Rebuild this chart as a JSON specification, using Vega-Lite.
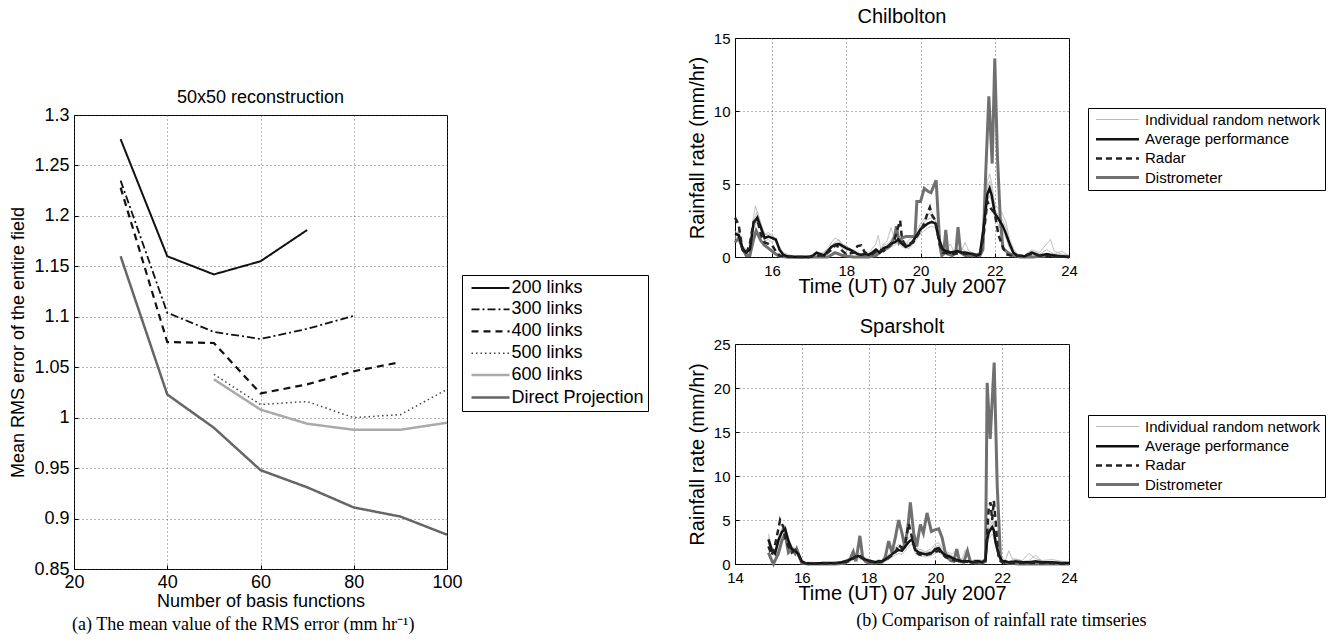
{
  "$schema": "https://vega.github.io/schema/vega-lite/v6.json",
  "background": "white",
  "padding": {"left": 9, "top": 6, "right": 0, "bottom": 0},
  "config": {
    "font": "Liberation Sans",
    "view": {"stroke": "black", "strokeWidth": 1},
    "axis": {"domain": false, "grid": true, "gridDash": [1, 3], "gridColor": "#444", "gridWidth": 0.8, "gridOpacity": 1, "ticks": true, "tickSize": -4, "tickColor": "black", "labelColor": "black", "titleColor": "black", "labelFont": "Liberation Sans", "titleFont": "Liberation Sans", "titleFontWeight": "normal", "labelFlush": false, "labelOverlap": false},
    "title": {"font": "Liberation Sans", "fontWeight": "normal", "color": "black"},
    "legend": {"labelFont": "Liberation Sans", "labelColor": "black", "labelLimit": 0}
  },
  "datasets": {
    "rms": [
      {"basis": 30, "series": "200 links", "rmse": 1.276}, {"basis": 40, "series": "200 links", "rmse": 1.160}, {"basis": 50, "series": "200 links", "rmse": 1.142}, {"basis": 60, "series": "200 links", "rmse": 1.155}, {"basis": 70, "series": "200 links", "rmse": 1.186},
      {"basis": 30, "series": "300 links", "rmse": 1.235}, {"basis": 40, "series": "300 links", "rmse": 1.104}, {"basis": 50, "series": "300 links", "rmse": 1.085}, {"basis": 60, "series": "300 links", "rmse": 1.078}, {"basis": 70, "series": "300 links", "rmse": 1.088}, {"basis": 80, "series": "300 links", "rmse": 1.101},
      {"basis": 30, "series": "400 links", "rmse": 1.228}, {"basis": 40, "series": "400 links", "rmse": 1.075}, {"basis": 50, "series": "400 links", "rmse": 1.074}, {"basis": 60, "series": "400 links", "rmse": 1.024}, {"basis": 70, "series": "400 links", "rmse": 1.033}, {"basis": 80, "series": "400 links", "rmse": 1.046}, {"basis": 90, "series": "400 links", "rmse": 1.055},
      {"basis": 50, "series": "500 links", "rmse": 1.043}, {"basis": 60, "series": "500 links", "rmse": 1.013}, {"basis": 70, "series": "500 links", "rmse": 1.016}, {"basis": 80, "series": "500 links", "rmse": 1.000}, {"basis": 90, "series": "500 links", "rmse": 1.003}, {"basis": 100, "series": "500 links", "rmse": 1.028},
      {"basis": 50, "series": "600 links", "rmse": 1.038}, {"basis": 60, "series": "600 links", "rmse": 1.008}, {"basis": 70, "series": "600 links", "rmse": 0.994}, {"basis": 80, "series": "600 links", "rmse": 0.988}, {"basis": 90, "series": "600 links", "rmse": 0.988}, {"basis": 100, "series": "600 links", "rmse": 0.995},
      {"basis": 30, "series": "Direct Projection", "rmse": 1.160}, {"basis": 40, "series": "Direct Projection", "rmse": 1.023}, {"basis": 50, "series": "Direct Projection", "rmse": 0.990}, {"basis": 60, "series": "Direct Projection", "rmse": 0.948}, {"basis": 70, "series": "Direct Projection", "rmse": 0.931}, {"basis": 80, "series": "Direct Projection", "rmse": 0.911}, {"basis": 90, "series": "Direct Projection", "rmse": 0.902}, {"basis": 100, "series": "Direct Projection", "rmse": 0.884}
    ],
    "chil": [
      {"hour":15.0,"series":"dist","rate":1.0},{"hour":15.1,"series":"dist","rate":1.3},{"hour":15.2,"series":"dist","rate":0.6},{"hour":15.3,"series":"dist","rate":0.1},{"hour":15.4,"series":"dist","rate":0.1},{"hour":15.5,"series":"dist","rate":1.2},{"hour":15.57,"series":"dist","rate":1.8},{"hour":15.7,"series":"dist","rate":1.1},{"hour":15.8,"series":"dist","rate":0.8},{"hour":15.9,"series":"dist","rate":0.6},{"hour":16.0,"series":"dist","rate":0.4},{"hour":16.1,"series":"dist","rate":0.2},{"hour":16.2,"series":"dist","rate":0.05},{"hour":16.4,"series":"dist","rate":0},{"hour":17.0,"series":"dist","rate":0},{"hour":17.5,"series":"dist","rate":0},{"hour":17.7,"series":"dist","rate":0.3},{"hour":17.9,"series":"dist","rate":0.1},{"hour":18.2,"series":"dist","rate":0},{"hour":18.6,"series":"dist","rate":0},{"hour":18.8,"series":"dist","rate":0.1},{"hour":19.0,"series":"dist","rate":0.5},{"hour":19.1,"series":"dist","rate":0.6},{"hour":19.2,"series":"dist","rate":0.8},{"hour":19.3,"series":"dist","rate":1.4},{"hour":19.35,"series":"dist","rate":2.1},{"hour":19.42,"series":"dist","rate":1.0},{"hour":19.5,"series":"dist","rate":1.3},{"hour":19.6,"series":"dist","rate":1.4},{"hour":19.7,"series":"dist","rate":1.4},{"hour":19.85,"series":"dist","rate":1.4},{"hour":19.9,"series":"dist","rate":3.8},{"hour":20.0,"series":"dist","rate":3.8},{"hour":20.1,"series":"dist","rate":4.7},{"hour":20.2,"series":"dist","rate":4.5},{"hour":20.28,"series":"dist","rate":4.4},{"hour":20.42,"series":"dist","rate":5.25},{"hour":20.47,"series":"dist","rate":3.0},{"hour":20.52,"series":"dist","rate":0.8},{"hour":20.57,"series":"dist","rate":0.1},{"hour":20.62,"series":"dist","rate":0.2},{"hour":20.68,"series":"dist","rate":1.85},{"hour":20.74,"series":"dist","rate":0.2},{"hour":20.85,"series":"dist","rate":0.1},{"hour":20.95,"series":"dist","rate":0.3},{"hour":21.01,"series":"dist","rate":2.05},{"hour":21.08,"series":"dist","rate":0.3},{"hour":21.2,"series":"dist","rate":0.1},{"hour":21.4,"series":"dist","rate":0.1},{"hour":21.6,"series":"dist","rate":0.1},{"hour":21.68,"series":"dist","rate":0.5},{"hour":21.76,"series":"dist","rate":6.0},{"hour":21.84,"series":"dist","rate":11.0},{"hour":21.93,"series":"dist","rate":6.4},{"hour":22.0,"series":"dist","rate":13.6},{"hour":22.07,"series":"dist","rate":7.0},{"hour":22.15,"series":"dist","rate":2.5},{"hour":22.22,"series":"dist","rate":0.6},{"hour":22.35,"series":"dist","rate":0.3},{"hour":22.5,"series":"dist","rate":0.1},{"hour":22.7,"series":"dist","rate":0},{"hour":23.0,"series":"dist","rate":0},{"hour":23.5,"series":"dist","rate":0.1},{"hour":24.0,"series":"dist","rate":0},

      {"hour":15.0,"series":"avg","rate":1.6},{"hour":15.1,"series":"avg","rate":1.5},{"hour":15.2,"series":"avg","rate":0.6},{"hour":15.3,"series":"avg","rate":0.3},{"hour":15.4,"series":"avg","rate":0.5},{"hour":15.5,"series":"avg","rate":2.3},{"hour":15.6,"series":"avg","rate":2.7},{"hour":15.7,"series":"avg","rate":2.0},{"hour":15.8,"series":"avg","rate":1.3},{"hour":15.9,"series":"avg","rate":1.4},{"hour":16.0,"series":"avg","rate":1.3},{"hour":16.1,"series":"avg","rate":1.2},{"hour":16.2,"series":"avg","rate":0.5},{"hour":16.3,"series":"avg","rate":0.15},{"hour":16.4,"series":"avg","rate":0.05},{"hour":16.6,"series":"avg","rate":0},{"hour":17.0,"series":"avg","rate":0},{"hour":17.1,"series":"avg","rate":0.1},{"hour":17.2,"series":"avg","rate":0.3},{"hour":17.3,"series":"avg","rate":0.2},{"hour":17.4,"series":"avg","rate":0.1},{"hour":17.5,"series":"avg","rate":0.4},{"hour":17.6,"series":"avg","rate":0.7},{"hour":17.7,"series":"avg","rate":0.85},{"hour":17.8,"series":"avg","rate":0.9},{"hour":17.9,"series":"avg","rate":0.75},{"hour":18.0,"series":"avg","rate":0.6},{"hour":18.1,"series":"avg","rate":0.5},{"hour":18.2,"series":"avg","rate":0.35},{"hour":18.3,"series":"avg","rate":0.2},{"hour":18.4,"series":"avg","rate":0.15},{"hour":18.5,"series":"avg","rate":0.2},{"hour":18.6,"series":"avg","rate":0.15},{"hour":18.7,"series":"avg","rate":0.3},{"hour":18.8,"series":"avg","rate":0.5},{"hour":18.9,"series":"avg","rate":0.3},{"hour":19.0,"series":"avg","rate":0.6},{"hour":19.1,"series":"avg","rate":0.7},{"hour":19.2,"series":"avg","rate":0.9},{"hour":19.3,"series":"avg","rate":1.0},{"hour":19.4,"series":"avg","rate":1.2},{"hour":19.5,"series":"avg","rate":0.9},{"hour":19.6,"series":"avg","rate":0.7},{"hour":19.7,"series":"avg","rate":0.8},{"hour":19.8,"series":"avg","rate":1.1},{"hour":19.9,"series":"avg","rate":1.5},{"hour":20.0,"series":"avg","rate":1.9},{"hour":20.1,"series":"avg","rate":2.1},{"hour":20.2,"series":"avg","rate":2.3},{"hour":20.3,"series":"avg","rate":2.4},{"hour":20.4,"series":"avg","rate":2.3},{"hour":20.5,"series":"avg","rate":1.2},{"hour":20.6,"series":"avg","rate":0.5},{"hour":20.7,"series":"avg","rate":0.4},{"hour":20.8,"series":"avg","rate":0.3},{"hour":20.9,"series":"avg","rate":0.35},{"hour":21.0,"series":"avg","rate":0.4},{"hour":21.1,"series":"avg","rate":0.3},{"hour":21.2,"series":"avg","rate":0.3},{"hour":21.3,"series":"avg","rate":0.25},{"hour":21.4,"series":"avg","rate":0.2},{"hour":21.5,"series":"avg","rate":0.1},{"hour":21.6,"series":"avg","rate":0.2},{"hour":21.7,"series":"avg","rate":2.0},{"hour":21.8,"series":"avg","rate":4.3},{"hour":21.86,"series":"avg","rate":4.7},{"hour":21.92,"series":"avg","rate":4.2},{"hour":22.0,"series":"avg","rate":3.0},{"hour":22.1,"series":"avg","rate":2.6},{"hour":22.2,"series":"avg","rate":2.2},{"hour":22.3,"series":"avg","rate":1.6},{"hour":22.4,"series":"avg","rate":0.9},{"hour":22.5,"series":"avg","rate":0.3},{"hour":22.6,"series":"avg","rate":0.1},{"hour":22.8,"series":"avg","rate":0.05},{"hour":23.0,"series":"avg","rate":0.3},{"hour":23.2,"series":"avg","rate":0.1},{"hour":23.4,"series":"avg","rate":0.2},{"hour":23.6,"series":"avg","rate":0.1},{"hour":23.8,"series":"avg","rate":0.05},{"hour":24.0,"series":"avg","rate":0},

      {"hour":15.0,"series":"radar","rate":2.7},{"hour":15.1,"series":"radar","rate":2.2},{"hour":15.2,"series":"radar","rate":0.5},{"hour":15.3,"series":"radar","rate":0.2},{"hour":15.4,"series":"radar","rate":0.9},{"hour":15.5,"series":"radar","rate":2.4},{"hour":15.6,"series":"radar","rate":2.6},{"hour":15.7,"series":"radar","rate":1.5},{"hour":15.8,"series":"radar","rate":1.0},{"hour":15.9,"series":"radar","rate":0.9},{"hour":16.0,"series":"radar","rate":0.8},{"hour":16.1,"series":"radar","rate":0.4},{"hour":16.2,"series":"radar","rate":0.1},{"hour":16.4,"series":"radar","rate":0},{"hour":17.0,"series":"radar","rate":0},{"hour":17.2,"series":"radar","rate":0.1},{"hour":17.4,"series":"radar","rate":0.1},{"hour":17.6,"series":"radar","rate":0.5},{"hour":17.7,"series":"radar","rate":0.8},{"hour":17.8,"series":"radar","rate":0.7},{"hour":17.9,"series":"radar","rate":0.4},{"hour":18.0,"series":"radar","rate":0.2},{"hour":18.2,"series":"radar","rate":0.3},{"hour":18.3,"series":"radar","rate":0.75},{"hour":18.4,"series":"radar","rate":0.8},{"hour":18.5,"series":"radar","rate":0.3},{"hour":18.7,"series":"radar","rate":0.2},{"hour":18.9,"series":"radar","rate":0.5},{"hour":19.0,"series":"radar","rate":0.4},{"hour":19.1,"series":"radar","rate":0.6},{"hour":19.2,"series":"radar","rate":0.9},{"hour":19.3,"series":"radar","rate":1.2},{"hour":19.4,"series":"radar","rate":2.1},{"hour":19.45,"series":"radar","rate":2.5},{"hour":19.5,"series":"radar","rate":1.2},{"hour":19.6,"series":"radar","rate":0.8},{"hour":19.7,"series":"radar","rate":0.9},{"hour":19.8,"series":"radar","rate":1.0},{"hour":19.9,"series":"radar","rate":1.4},{"hour":20.0,"series":"radar","rate":1.8},{"hour":20.1,"series":"radar","rate":2.3},{"hour":20.2,"series":"radar","rate":3.1},{"hour":20.25,"series":"radar","rate":3.4},{"hour":20.3,"series":"radar","rate":2.9},{"hour":20.4,"series":"radar","rate":2.5},{"hour":20.5,"series":"radar","rate":1.0},{"hour":20.6,"series":"radar","rate":0.3},{"hour":20.7,"series":"radar","rate":0.25},{"hour":20.8,"series":"radar","rate":0.3},{"hour":20.9,"series":"radar","rate":0.2},{"hour":21.0,"series":"radar","rate":0.25},{"hour":21.1,"series":"radar","rate":0.3},{"hour":21.2,"series":"radar","rate":0.2},{"hour":21.4,"series":"radar","rate":0.2},{"hour":21.6,"series":"radar","rate":0.1},{"hour":21.7,"series":"radar","rate":1.5},{"hour":21.8,"series":"radar","rate":3.8},{"hour":21.9,"series":"radar","rate":3.3},{"hour":22.0,"series":"radar","rate":3.0},{"hour":22.1,"series":"radar","rate":1.5},{"hour":22.2,"series":"radar","rate":0.8},{"hour":22.3,"series":"radar","rate":0.2},{"hour":22.5,"series":"radar","rate":0.05},{"hour":22.8,"series":"radar","rate":0.1},{"hour":23.0,"series":"radar","rate":0.2},{"hour":23.2,"series":"radar","rate":0.1},{"hour":23.5,"series":"radar","rate":0.05},{"hour":24.0,"series":"radar","rate":0},

      {"hour":15.0,"series":"net","run":1,"rate":1.2},{"hour":15.1,"series":"net","run":1,"rate":1.9},{"hour":15.2,"series":"net","run":1,"rate":0.8},{"hour":15.3,"series":"net","run":1,"rate":0.5},{"hour":15.4,"series":"net","run":1,"rate":0.6},{"hour":15.5,"series":"net","run":1,"rate":2.8},{"hour":15.55,"series":"net","run":1,"rate":3.5},{"hour":15.7,"series":"net","run":1,"rate":2.2},{"hour":15.8,"series":"net","run":1,"rate":1.6},{"hour":15.9,"series":"net","run":1,"rate":1.5},{"hour":16.0,"series":"net","run":1,"rate":1.6},{"hour":16.1,"series":"net","run":1,"rate":1.1},{"hour":16.2,"series":"net","run":1,"rate":0.6},{"hour":16.3,"series":"net","run":1,"rate":0.2},{"hour":16.5,"series":"net","run":1,"rate":0.05},{"hour":17.0,"series":"net","run":1,"rate":0.05},{"hour":17.1,"series":"net","run":1,"rate":0.2},{"hour":17.2,"series":"net","run":1,"rate":0.4},{"hour":17.3,"series":"net","run":1,"rate":0.1},{"hour":17.5,"series":"net","run":1,"rate":0.6},{"hour":17.6,"series":"net","run":1,"rate":1.0},{"hour":17.7,"series":"net","run":1,"rate":1.3},{"hour":17.8,"series":"net","run":1,"rate":1.1},{"hour":17.9,"series":"net","run":1,"rate":0.9},{"hour":18.0,"series":"net","run":1,"rate":0.7},{"hour":18.1,"series":"net","run":1,"rate":0.6},{"hour":18.2,"series":"net","run":1,"rate":0.4},{"hour":18.3,"series":"net","run":1,"rate":0.3},{"hour":18.4,"series":"net","run":1,"rate":0.2},{"hour":18.5,"series":"net","run":1,"rate":0.4},{"hour":18.6,"series":"net","run":1,"rate":0.2},{"hour":18.7,"series":"net","run":1,"rate":0.6},{"hour":18.8,"series":"net","run":1,"rate":0.9},{"hour":18.86,"series":"net","run":1,"rate":1.5},{"hour":18.93,"series":"net","run":1,"rate":0.5},{"hour":19.0,"series":"net","run":1,"rate":0.9},{"hour":19.1,"series":"net","run":1,"rate":1.1},{"hour":19.2,"series":"net","run":1,"rate":2.0},{"hour":19.3,"series":"net","run":1,"rate":1.3},{"hour":19.4,"series":"net","run":1,"rate":1.5},{"hour":19.5,"series":"net","run":1,"rate":1.1},{"hour":19.6,"series":"net","run":1,"rate":0.9},{"hour":19.7,"series":"net","run":1,"rate":1.2},{"hour":19.8,"series":"net","run":1,"rate":1.4},{"hour":19.9,"series":"net","run":1,"rate":1.8},{"hour":20.0,"series":"net","run":1,"rate":2.3},{"hour":20.1,"series":"net","run":1,"rate":2.6},{"hour":20.2,"series":"net","run":1,"rate":2.9},{"hour":20.3,"series":"net","run":1,"rate":3.1},{"hour":20.4,"series":"net","run":1,"rate":2.6},{"hour":20.5,"series":"net","run":1,"rate":1.3},{"hour":20.6,"series":"net","run":1,"rate":0.6},{"hour":20.7,"series":"net","run":1,"rate":0.5},{"hour":20.8,"series":"net","run":1,"rate":0.9},{"hour":20.9,"series":"net","run":1,"rate":0.4},{"hour":21.0,"series":"net","run":1,"rate":0.6},{"hour":21.1,"series":"net","run":1,"rate":0.4},{"hour":21.2,"series":"net","run":1,"rate":1.0},{"hour":21.3,"series":"net","run":1,"rate":0.4},{"hour":21.4,"series":"net","run":1,"rate":0.3},{"hour":21.5,"series":"net","run":1,"rate":0.2},{"hour":21.6,"series":"net","run":1,"rate":0.4},{"hour":21.7,"series":"net","run":1,"rate":2.6},{"hour":21.8,"series":"net","run":1,"rate":5.2},{"hour":21.86,"series":"net","run":1,"rate":5.7},{"hour":21.92,"series":"net","run":1,"rate":5.0},{"hour":22.0,"series":"net","run":1,"rate":3.6},{"hour":22.1,"series":"net","run":1,"rate":3.3},{"hour":22.2,"series":"net","run":1,"rate":3.0},{"hour":22.3,"series":"net","run":1,"rate":2.4},{"hour":22.4,"series":"net","run":1,"rate":1.2},{"hour":22.5,"series":"net","run":1,"rate":0.6},{"hour":22.6,"series":"net","run":1,"rate":0.2},{"hour":22.8,"series":"net","run":1,"rate":0.1},{"hour":23.0,"series":"net","run":1,"rate":0.5},{"hour":23.2,"series":"net","run":1,"rate":0.3},{"hour":23.4,"series":"net","run":1,"rate":0.9},{"hour":23.5,"series":"net","run":1,"rate":1.2},{"hour":23.6,"series":"net","run":1,"rate":0.4},{"hour":23.8,"series":"net","run":1,"rate":0.2},{"hour":24.0,"series":"net","run":1,"rate":0.1},

      {"hour":15.0,"series":"net","run":2,"rate":1.8},{"hour":15.1,"series":"net","run":2,"rate":1.3},{"hour":15.2,"series":"net","run":2,"rate":0.4},{"hour":15.3,"series":"net","run":2,"rate":0.2},{"hour":15.4,"series":"net","run":2,"rate":0.3},{"hour":15.5,"series":"net","run":2,"rate":2.0},{"hour":15.6,"series":"net","run":2,"rate":2.4},{"hour":15.7,"series":"net","run":2,"rate":1.8},{"hour":15.8,"series":"net","run":2,"rate":1.1},{"hour":15.9,"series":"net","run":2,"rate":1.2},{"hour":16.0,"series":"net","run":2,"rate":1.0},{"hour":16.1,"series":"net","run":2,"rate":1.3},{"hour":16.2,"series":"net","run":2,"rate":0.4},{"hour":16.3,"series":"net","run":2,"rate":0.1},{"hour":16.5,"series":"net","run":2,"rate":0},{"hour":17.0,"series":"net","run":2,"rate":0},{"hour":17.1,"series":"net","run":2,"rate":0.1},{"hour":17.2,"series":"net","run":2,"rate":0.2},{"hour":17.3,"series":"net","run":2,"rate":0.3},{"hour":17.4,"series":"net","run":2,"rate":0.2},{"hour":17.5,"series":"net","run":2,"rate":0.3},{"hour":17.6,"series":"net","run":2,"rate":0.6},{"hour":17.7,"series":"net","run":2,"rate":0.7},{"hour":17.8,"series":"net","run":2,"rate":0.8},{"hour":17.9,"series":"net","run":2,"rate":0.6},{"hour":18.0,"series":"net","run":2,"rate":0.5},{"hour":18.1,"series":"net","run":2,"rate":0.4},{"hour":18.2,"series":"net","run":2,"rate":0.3},{"hour":18.3,"series":"net","run":2,"rate":0.2},{"hour":18.4,"series":"net","run":2,"rate":0.1},{"hour":18.5,"series":"net","run":2,"rate":0.1},{"hour":18.6,"series":"net","run":2,"rate":0.2},{"hour":18.7,"series":"net","run":2,"rate":0.2},{"hour":18.8,"series":"net","run":2,"rate":0.4},{"hour":18.9,"series":"net","run":2,"rate":0.3},{"hour":19.0,"series":"net","run":2,"rate":0.4},{"hour":19.1,"series":"net","run":2,"rate":0.5},{"hour":19.2,"series":"net","run":2,"rate":0.7},{"hour":19.3,"series":"net","run":2,"rate":0.8},{"hour":19.4,"series":"net","run":2,"rate":1.0},{"hour":19.5,"series":"net","run":2,"rate":0.7},{"hour":19.6,"series":"net","run":2,"rate":0.6},{"hour":19.7,"series":"net","run":2,"rate":0.6},{"hour":19.8,"series":"net","run":2,"rate":0.9},{"hour":19.9,"series":"net","run":2,"rate":1.2},{"hour":20.0,"series":"net","run":2,"rate":1.6},{"hour":20.1,"series":"net","run":2,"rate":1.8},{"hour":20.2,"series":"net","run":2,"rate":2.0},{"hour":20.3,"series":"net","run":2,"rate":2.1},{"hour":20.4,"series":"net","run":2,"rate":2.0},{"hour":20.5,"series":"net","run":2,"rate":1.0},{"hour":20.6,"series":"net","run":2,"rate":0.4},{"hour":20.7,"series":"net","run":2,"rate":0.3},{"hour":20.8,"series":"net","run":2,"rate":0.2},{"hour":20.9,"series":"net","run":2,"rate":0.5},{"hour":21.0,"series":"net","run":2,"rate":0.3},{"hour":21.1,"series":"net","run":2,"rate":0.2},{"hour":21.2,"series":"net","run":2,"rate":0.2},{"hour":21.3,"series":"net","run":2,"rate":0.15},{"hour":21.4,"series":"net","run":2,"rate":0.1},{"hour":21.5,"series":"net","run":2,"rate":0.1},{"hour":21.6,"series":"net","run":2,"rate":0.1},{"hour":21.7,"series":"net","run":2,"rate":1.6},{"hour":21.8,"series":"net","run":2,"rate":3.8},{"hour":21.86,"series":"net","run":2,"rate":4.2},{"hour":21.92,"series":"net","run":2,"rate":3.8},{"hour":22.0,"series":"net","run":2,"rate":2.6},{"hour":22.1,"series":"net","run":2,"rate":2.2},{"hour":22.2,"series":"net","run":2,"rate":1.8},{"hour":22.3,"series":"net","run":2,"rate":1.3},{"hour":22.4,"series":"net","run":2,"rate":0.6},{"hour":22.5,"series":"net","run":2,"rate":0.2},{"hour":22.6,"series":"net","run":2,"rate":0.1},{"hour":22.8,"series":"net","run":2,"rate":0},{"hour":23.0,"series":"net","run":2,"rate":0.2},{"hour":23.2,"series":"net","run":2,"rate":0.1},{"hour":23.4,"series":"net","run":2,"rate":0.1},{"hour":23.6,"series":"net","run":2,"rate":0.05},{"hour":24.0,"series":"net","run":2,"rate":0},

      {"hour":15.0,"series":"net","run":3,"rate":1.4},{"hour":15.1,"series":"net","run":3,"rate":1.7},{"hour":15.2,"series":"net","run":3,"rate":0.7},{"hour":15.3,"series":"net","run":3,"rate":0.4},{"hour":15.4,"series":"net","run":3,"rate":0.5},{"hour":15.5,"series":"net","run":3,"rate":2.5},{"hour":15.6,"series":"net","run":3,"rate":3.1},{"hour":15.7,"series":"net","run":3,"rate":2.3},{"hour":15.8,"series":"net","run":3,"rate":1.5},{"hour":15.9,"series":"net","run":3,"rate":1.7},{"hour":16.0,"series":"net","run":3,"rate":1.4},{"hour":16.1,"series":"net","run":3,"rate":1.0},{"hour":16.2,"series":"net","run":3,"rate":0.7},{"hour":16.3,"series":"net","run":3,"rate":0.3},{"hour":16.5,"series":"net","run":3,"rate":0.1},{"hour":17.0,"series":"net","run":3,"rate":0},{"hour":17.1,"series":"net","run":3,"rate":0.1},{"hour":17.2,"series":"net","run":3,"rate":0.3},{"hour":17.3,"series":"net","run":3,"rate":0.2},{"hour":17.4,"series":"net","run":3,"rate":0.3},{"hour":17.5,"series":"net","run":3,"rate":0.5},{"hour":17.6,"series":"net","run":3,"rate":0.8},{"hour":17.7,"series":"net","run":3,"rate":1.0},{"hour":17.8,"series":"net","run":3,"rate":1.2},{"hour":17.9,"series":"net","run":3,"rate":0.8},{"hour":18.0,"series":"net","run":3,"rate":0.8},{"hour":18.1,"series":"net","run":3,"rate":0.5},{"hour":18.2,"series":"net","run":3,"rate":0.5},{"hour":18.3,"series":"net","run":3,"rate":0.3},{"hour":18.4,"series":"net","run":3,"rate":0.2},{"hour":18.5,"series":"net","run":3,"rate":0.3},{"hour":18.6,"series":"net","run":3,"rate":0.1},{"hour":18.7,"series":"net","run":3,"rate":0.4},{"hour":18.8,"series":"net","run":3,"rate":0.6},{"hour":18.9,"series":"net","run":3,"rate":0.4},{"hour":19.0,"series":"net","run":3,"rate":0.8},{"hour":19.1,"series":"net","run":3,"rate":0.9},{"hour":19.2,"series":"net","run":3,"rate":1.1},{"hour":19.3,"series":"net","run":3,"rate":1.6},{"hour":19.4,"series":"net","run":3,"rate":1.3},{"hour":19.5,"series":"net","run":3,"rate":1.0},{"hour":19.6,"series":"net","run":3,"rate":0.8},{"hour":19.7,"series":"net","run":3,"rate":1.0},{"hour":19.8,"series":"net","run":3,"rate":1.2},{"hour":19.9,"series":"net","run":3,"rate":1.6},{"hour":20.0,"series":"net","run":3,"rate":2.1},{"hour":20.1,"series":"net","run":3,"rate":2.4},{"hour":20.2,"series":"net","run":3,"rate":2.6},{"hour":20.3,"series":"net","run":3,"rate":2.7},{"hour":20.4,"series":"net","run":3,"rate":2.5},{"hour":20.5,"series":"net","run":3,"rate":1.4},{"hour":20.6,"series":"net","run":3,"rate":0.6},{"hour":20.7,"series":"net","run":3,"rate":0.6},{"hour":20.8,"series":"net","run":3,"rate":0.4},{"hour":20.9,"series":"net","run":3,"rate":0.4},{"hour":21.0,"series":"net","run":3,"rate":0.5},{"hour":21.1,"series":"net","run":3,"rate":0.6},{"hour":21.2,"series":"net","run":3,"rate":0.4},{"hour":21.3,"series":"net","run":3,"rate":0.3},{"hour":21.4,"series":"net","run":3,"rate":0.3},{"hour":21.5,"series":"net","run":3,"rate":0.2},{"hour":21.6,"series":"net","run":3,"rate":0.3},{"hour":21.7,"series":"net","run":3,"rate":2.3},{"hour":21.8,"series":"net","run":3,"rate":4.7},{"hour":21.86,"series":"net","run":3,"rate":5.2},{"hour":21.92,"series":"net","run":3,"rate":4.6},{"hour":22.0,"series":"net","run":3,"rate":3.2},{"hour":22.1,"series":"net","run":3,"rate":2.9},{"hour":22.2,"series":"net","run":3,"rate":2.6},{"hour":22.3,"series":"net","run":3,"rate":2.0},{"hour":22.4,"series":"net","run":3,"rate":1.0},{"hour":22.5,"series":"net","run":3,"rate":0.4},{"hour":22.6,"series":"net","run":3,"rate":0.2},{"hour":22.8,"series":"net","run":3,"rate":0.1},{"hour":23.0,"series":"net","run":3,"rate":0.4},{"hour":23.2,"series":"net","run":3,"rate":0.2},{"hour":23.4,"series":"net","run":3,"rate":0.5},{"hour":23.6,"series":"net","run":3,"rate":0.2},{"hour":23.8,"series":"net","run":3,"rate":0.4},{"hour":24.0,"series":"net","run":3,"rate":0.1}
    ],
    "spar": [
      {"hour":15.0,"series":"dist","rate":1.3},{"hour":15.1,"series":"dist","rate":0.4},{"hour":15.15,"series":"dist","rate":0},{"hour":15.3,"series":"dist","rate":1.2},{"hour":15.4,"series":"dist","rate":2.6},{"hour":15.5,"series":"dist","rate":3.4},{"hour":15.6,"series":"dist","rate":1.3},{"hour":15.7,"series":"dist","rate":1.7},{"hour":15.8,"series":"dist","rate":1.2},{"hour":15.85,"series":"dist","rate":1.7},{"hour":15.95,"series":"dist","rate":0.6},{"hour":16.0,"series":"dist","rate":0.1},{"hour":16.2,"series":"dist","rate":0},{"hour":17.0,"series":"dist","rate":0},{"hour":17.3,"series":"dist","rate":0.1},{"hour":17.45,"series":"dist","rate":0.6},{"hour":17.54,"series":"dist","rate":1.4},{"hour":17.62,"series":"dist","rate":0.3},{"hour":17.74,"series":"dist","rate":3.2},{"hour":17.82,"series":"dist","rate":0.8},{"hour":17.9,"series":"dist","rate":0.3},{"hour":18.0,"series":"dist","rate":0.1},{"hour":18.2,"series":"dist","rate":0.1},{"hour":18.4,"series":"dist","rate":0.2},{"hour":18.5,"series":"dist","rate":0.8},{"hour":18.6,"series":"dist","rate":2.6},{"hour":18.7,"series":"dist","rate":1.3},{"hour":18.8,"series":"dist","rate":3.0},{"hour":18.9,"series":"dist","rate":5.0},{"hour":19.0,"series":"dist","rate":3.5},{"hour":19.08,"series":"dist","rate":2.0},{"hour":19.17,"series":"dist","rate":4.0},{"hour":19.25,"series":"dist","rate":7.0},{"hour":19.35,"series":"dist","rate":3.5},{"hour":19.44,"series":"dist","rate":2.0},{"hour":19.55,"series":"dist","rate":4.5},{"hour":19.64,"series":"dist","rate":3.5},{"hour":19.75,"series":"dist","rate":5.8},{"hour":19.88,"series":"dist","rate":3.7},{"hour":20.0,"series":"dist","rate":3.9},{"hour":20.1,"series":"dist","rate":4.0},{"hour":20.2,"series":"dist","rate":3.0},{"hour":20.3,"series":"dist","rate":1.2},{"hour":20.45,"series":"dist","rate":0.4},{"hour":20.55,"series":"dist","rate":0.3},{"hour":20.64,"series":"dist","rate":1.7},{"hour":20.72,"series":"dist","rate":0.3},{"hour":20.85,"series":"dist","rate":0.2},{"hour":20.96,"series":"dist","rate":1.5},{"hour":21.05,"series":"dist","rate":0.2},{"hour":21.2,"series":"dist","rate":0.1},{"hour":21.4,"series":"dist","rate":0.1},{"hour":21.5,"series":"dist","rate":0.3},{"hour":21.55,"series":"dist","rate":20.6},{"hour":21.64,"series":"dist","rate":14.2},{"hour":21.76,"series":"dist","rate":22.9},{"hour":21.85,"series":"dist","rate":9.0},{"hour":21.95,"series":"dist","rate":0.5},{"hour":22.05,"series":"dist","rate":0.2},{"hour":22.2,"series":"dist","rate":0.1},{"hour":22.5,"series":"dist","rate":0},{"hour":23.0,"series":"dist","rate":0},{"hour":23.5,"series":"dist","rate":0},{"hour":24.0,"series":"dist","rate":0},

      {"hour":15.0,"series":"avg","rate":2.8},{"hour":15.1,"series":"avg","rate":1.6},{"hour":15.2,"series":"avg","rate":1.2},{"hour":15.3,"series":"avg","rate":2.7},{"hour":15.4,"series":"avg","rate":3.6},{"hour":15.5,"series":"avg","rate":4.0},{"hour":15.6,"series":"avg","rate":2.6},{"hour":15.7,"series":"avg","rate":1.7},{"hour":15.8,"series":"avg","rate":1.5},{"hour":15.9,"series":"avg","rate":1.1},{"hour":16.0,"series":"avg","rate":0.3},{"hour":16.1,"series":"avg","rate":0.1},{"hour":16.3,"series":"avg","rate":0.05},{"hour":16.6,"series":"avg","rate":0.1},{"hour":17.0,"series":"avg","rate":0.1},{"hour":17.2,"series":"avg","rate":0.2},{"hour":17.4,"series":"avg","rate":0.4},{"hour":17.5,"series":"avg","rate":0.6},{"hour":17.6,"series":"avg","rate":0.8},{"hour":17.7,"series":"avg","rate":0.9},{"hour":17.8,"series":"avg","rate":0.7},{"hour":17.9,"series":"avg","rate":0.5},{"hour":18.0,"series":"avg","rate":0.4},{"hour":18.1,"series":"avg","rate":0.3},{"hour":18.2,"series":"avg","rate":0.2},{"hour":18.3,"series":"avg","rate":0.3},{"hour":18.4,"series":"avg","rate":0.3},{"hour":18.5,"series":"avg","rate":0.5},{"hour":18.6,"series":"avg","rate":0.8},{"hour":18.7,"series":"avg","rate":1.1},{"hour":18.8,"series":"avg","rate":1.4},{"hour":18.9,"series":"avg","rate":1.6},{"hour":19.0,"series":"avg","rate":1.5},{"hour":19.1,"series":"avg","rate":2.0},{"hour":19.2,"series":"avg","rate":2.5},{"hour":19.3,"series":"avg","rate":2.8},{"hour":19.4,"series":"avg","rate":1.6},{"hour":19.5,"series":"avg","rate":1.3},{"hour":19.6,"series":"avg","rate":1.2},{"hour":19.7,"series":"avg","rate":1.1},{"hour":19.8,"series":"avg","rate":1.2},{"hour":19.9,"series":"avg","rate":1.3},{"hour":20.0,"series":"avg","rate":1.7},{"hour":20.1,"series":"avg","rate":1.8},{"hour":20.2,"series":"avg","rate":1.3},{"hour":20.3,"series":"avg","rate":1.0},{"hour":20.4,"series":"avg","rate":0.9},{"hour":20.5,"series":"avg","rate":0.7},{"hour":20.6,"series":"avg","rate":0.5},{"hour":20.7,"series":"avg","rate":0.4},{"hour":20.8,"series":"avg","rate":0.3},{"hour":20.9,"series":"avg","rate":0.3},{"hour":21.0,"series":"avg","rate":0.3},{"hour":21.1,"series":"avg","rate":0.2},{"hour":21.2,"series":"avg","rate":0.3},{"hour":21.3,"series":"avg","rate":0.3},{"hour":21.4,"series":"avg","rate":0.2},{"hour":21.5,"series":"avg","rate":0.5},{"hour":21.55,"series":"avg","rate":2.8},{"hour":21.6,"series":"avg","rate":3.6},{"hour":21.7,"series":"avg","rate":4.2},{"hour":21.75,"series":"avg","rate":3.8},{"hour":21.8,"series":"avg","rate":2.5},{"hour":21.9,"series":"avg","rate":1.0},{"hour":22.0,"series":"avg","rate":0.3},{"hour":22.1,"series":"avg","rate":0.3},{"hour":22.2,"series":"avg","rate":0.2},{"hour":22.4,"series":"avg","rate":0.3},{"hour":22.6,"series":"avg","rate":0.2},{"hour":22.8,"series":"avg","rate":0.2},{"hour":23.0,"series":"avg","rate":0.3},{"hour":23.2,"series":"avg","rate":0.2},{"hour":23.5,"series":"avg","rate":0.2},{"hour":23.8,"series":"avg","rate":0.1},{"hour":24.0,"series":"avg","rate":0.1},

      {"hour":15.0,"series":"radar","rate":2.0},{"hour":15.1,"series":"radar","rate":1.0},{"hour":15.2,"series":"radar","rate":2.2},{"hour":15.3,"series":"radar","rate":4.0},{"hour":15.35,"series":"radar","rate":5.0},{"hour":15.45,"series":"radar","rate":4.2},{"hour":15.5,"series":"radar","rate":3.0},{"hour":15.6,"series":"radar","rate":2.0},{"hour":15.7,"series":"radar","rate":1.3},{"hour":15.8,"series":"radar","rate":1.6},{"hour":15.9,"series":"radar","rate":1.0},{"hour":16.0,"series":"radar","rate":0.2},{"hour":16.2,"series":"radar","rate":0},{"hour":17.0,"series":"radar","rate":0.1},{"hour":17.4,"series":"radar","rate":0.3},{"hour":17.6,"series":"radar","rate":0.8},{"hour":17.7,"series":"radar","rate":1.1},{"hour":17.8,"series":"radar","rate":0.7},{"hour":17.9,"series":"radar","rate":0.4},{"hour":18.0,"series":"radar","rate":0.3},{"hour":18.2,"series":"radar","rate":0.2},{"hour":18.4,"series":"radar","rate":0.3},{"hour":18.5,"series":"radar","rate":0.4},{"hour":18.6,"series":"radar","rate":0.7},{"hour":18.7,"series":"radar","rate":1.0},{"hour":18.8,"series":"radar","rate":1.3},{"hour":18.9,"series":"radar","rate":2.2},{"hour":19.0,"series":"radar","rate":1.8},{"hour":19.1,"series":"radar","rate":2.4},{"hour":19.2,"series":"radar","rate":4.6},{"hour":19.3,"series":"radar","rate":3.0},{"hour":19.4,"series":"radar","rate":1.5},{"hour":19.5,"series":"radar","rate":1.1},{"hour":19.6,"series":"radar","rate":1.0},{"hour":19.7,"series":"radar","rate":1.0},{"hour":19.8,"series":"radar","rate":1.1},{"hour":19.9,"series":"radar","rate":1.2},{"hour":20.0,"series":"radar","rate":1.4},{"hour":20.1,"series":"radar","rate":1.5},{"hour":20.2,"series":"radar","rate":1.2},{"hour":20.3,"series":"radar","rate":0.8},{"hour":20.4,"series":"radar","rate":0.6},{"hour":20.6,"series":"radar","rate":0.4},{"hour":20.8,"series":"radar","rate":0.3},{"hour":21.0,"series":"radar","rate":0.2},{"hour":21.2,"series":"radar","rate":0.2},{"hour":21.4,"series":"radar","rate":0.2},{"hour":21.5,"series":"radar","rate":0.4},{"hour":21.55,"series":"radar","rate":3.5},{"hour":21.6,"series":"radar","rate":6.5},{"hour":21.65,"series":"radar","rate":7.0},{"hour":21.7,"series":"radar","rate":5.0},{"hour":21.75,"series":"radar","rate":7.2},{"hour":21.8,"series":"radar","rate":5.0},{"hour":21.85,"series":"radar","rate":2.5},{"hour":21.9,"series":"radar","rate":0.5},{"hour":22.0,"series":"radar","rate":0.2},{"hour":22.2,"series":"radar","rate":0.1},{"hour":22.5,"series":"radar","rate":0.1},{"hour":23.0,"series":"radar","rate":0.1},{"hour":23.5,"series":"radar","rate":0.1},{"hour":24.0,"series":"radar","rate":0},

      {"hour":15.0,"series":"net","run":1,"rate":3.4},{"hour":15.1,"series":"net","run":1,"rate":2.0},{"hour":15.2,"series":"net","run":1,"rate":1.5},{"hour":15.3,"series":"net","run":1,"rate":3.0},{"hour":15.4,"series":"net","run":1,"rate":4.0},{"hour":15.5,"series":"net","run":1,"rate":4.4},{"hour":15.6,"series":"net","run":1,"rate":3.0},{"hour":15.7,"series":"net","run":1,"rate":2.0},{"hour":15.8,"series":"net","run":1,"rate":1.8},{"hour":15.9,"series":"net","run":1,"rate":1.4},{"hour":16.0,"series":"net","run":1,"rate":0.5},{"hour":16.1,"series":"net","run":1,"rate":0.2},{"hour":16.3,"series":"net","run":1,"rate":0.2},{"hour":16.5,"series":"net","run":1,"rate":0.1},{"hour":16.8,"series":"net","run":1,"rate":0.2},{"hour":17.0,"series":"net","run":1,"rate":0.1},{"hour":17.2,"series":"net","run":1,"rate":0.3},{"hour":17.4,"series":"net","run":1,"rate":0.6},{"hour":17.5,"series":"net","run":1,"rate":0.9},{"hour":17.6,"series":"net","run":1,"rate":1.2},{"hour":17.7,"series":"net","run":1,"rate":1.3},{"hour":17.8,"series":"net","run":1,"rate":1.0},{"hour":17.9,"series":"net","run":1,"rate":0.7},{"hour":18.0,"series":"net","run":1,"rate":0.6},{"hour":18.1,"series":"net","run":1,"rate":0.4},{"hour":18.2,"series":"net","run":1,"rate":0.3},{"hour":18.3,"series":"net","run":1,"rate":0.5},{"hour":18.4,"series":"net","run":1,"rate":0.4},{"hour":18.5,"series":"net","run":1,"rate":0.7},{"hour":18.6,"series":"net","run":1,"rate":1.1},{"hour":18.7,"series":"net","run":1,"rate":1.5},{"hour":18.8,"series":"net","run":1,"rate":1.9},{"hour":18.9,"series":"net","run":1,"rate":2.2},{"hour":19.0,"series":"net","run":1,"rate":2.0},{"hour":19.1,"series":"net","run":1,"rate":2.5},{"hour":19.2,"series":"net","run":1,"rate":3.0},{"hour":19.3,"series":"net","run":1,"rate":3.3},{"hour":19.4,"series":"net","run":1,"rate":2.1},{"hour":19.5,"series":"net","run":1,"rate":1.7},{"hour":19.6,"series":"net","run":1,"rate":1.6},{"hour":19.7,"series":"net","run":1,"rate":1.4},{"hour":19.8,"series":"net","run":1,"rate":1.6},{"hour":19.9,"series":"net","run":1,"rate":1.8},{"hour":20.0,"series":"net","run":1,"rate":2.3},{"hour":20.1,"series":"net","run":1,"rate":2.4},{"hour":20.2,"series":"net","run":1,"rate":1.8},{"hour":20.3,"series":"net","run":1,"rate":1.4},{"hour":20.4,"series":"net","run":1,"rate":1.3},{"hour":20.5,"series":"net","run":1,"rate":1.1},{"hour":20.6,"series":"net","run":1,"rate":1.5},{"hour":20.7,"series":"net","run":1,"rate":0.7},{"hour":20.8,"series":"net","run":1,"rate":0.6},{"hour":20.9,"series":"net","run":1,"rate":1.6},{"hour":21.0,"series":"net","run":1,"rate":0.5},{"hour":21.1,"series":"net","run":1,"rate":0.4},{"hour":21.2,"series":"net","run":1,"rate":0.5},{"hour":21.3,"series":"net","run":1,"rate":0.5},{"hour":21.4,"series":"net","run":1,"rate":0.4},{"hour":21.5,"series":"net","run":1,"rate":0.8},{"hour":21.55,"series":"net","run":1,"rate":3.5},{"hour":21.6,"series":"net","run":1,"rate":4.4},{"hour":21.7,"series":"net","run":1,"rate":5.2},{"hour":21.75,"series":"net","run":1,"rate":4.6},{"hour":21.8,"series":"net","run":1,"rate":3.2},{"hour":21.9,"series":"net","run":1,"rate":1.5},{"hour":22.0,"series":"net","run":1,"rate":0.6},{"hour":22.1,"series":"net","run":1,"rate":0.5},{"hour":22.2,"series":"net","run":1,"rate":1.5},{"hour":22.3,"series":"net","run":1,"rate":0.6},{"hour":22.4,"series":"net","run":1,"rate":0.5},{"hour":22.6,"series":"net","run":1,"rate":0.4},{"hour":22.8,"series":"net","run":1,"rate":1.2},{"hour":23.0,"series":"net","run":1,"rate":0.6},{"hour":23.2,"series":"net","run":1,"rate":0.4},{"hour":23.5,"series":"net","run":1,"rate":0.5},{"hour":23.8,"series":"net","run":1,"rate":0.3},{"hour":24.0,"series":"net","run":1,"rate":0.2},

      {"hour":15.0,"series":"net","run":2,"rate":2.3},{"hour":15.1,"series":"net","run":2,"rate":1.2},{"hour":15.2,"series":"net","run":2,"rate":0.9},{"hour":15.3,"series":"net","run":2,"rate":2.3},{"hour":15.4,"series":"net","run":2,"rate":3.1},{"hour":15.5,"series":"net","run":2,"rate":3.5},{"hour":15.6,"series":"net","run":2,"rate":2.2},{"hour":15.7,"series":"net","run":2,"rate":1.4},{"hour":15.8,"series":"net","run":2,"rate":1.2},{"hour":15.9,"series":"net","run":2,"rate":0.8},{"hour":16.0,"series":"net","run":2,"rate":0.2},{"hour":16.1,"series":"net","run":2,"rate":0.05},{"hour":16.3,"series":"net","run":2,"rate":0},{"hour":16.6,"series":"net","run":2,"rate":0.05},{"hour":17.0,"series":"net","run":2,"rate":0},{"hour":17.2,"series":"net","run":2,"rate":0.1},{"hour":17.4,"series":"net","run":2,"rate":0.2},{"hour":17.5,"series":"net","run":2,"rate":0.4},{"hour":17.6,"series":"net","run":2,"rate":0.5},{"hour":17.7,"series":"net","run":2,"rate":0.6},{"hour":17.8,"series":"net","run":2,"rate":0.5},{"hour":17.9,"series":"net","run":2,"rate":0.3},{"hour":18.0,"series":"net","run":2,"rate":0.2},{"hour":18.1,"series":"net","run":2,"rate":0.2},{"hour":18.2,"series":"net","run":2,"rate":0.1},{"hour":18.3,"series":"net","run":2,"rate":0.2},{"hour":18.4,"series":"net","run":2,"rate":0.2},{"hour":18.5,"series":"net","run":2,"rate":0.3},{"hour":18.6,"series":"net","run":2,"rate":0.5},{"hour":18.7,"series":"net","run":2,"rate":0.8},{"hour":18.8,"series":"net","run":2,"rate":1.0},{"hour":18.9,"series":"net","run":2,"rate":1.2},{"hour":19.0,"series":"net","run":2,"rate":1.1},{"hour":19.1,"series":"net","run":2,"rate":1.5},{"hour":19.2,"series":"net","run":2,"rate":2.0},{"hour":19.3,"series":"net","run":2,"rate":2.3},{"hour":19.4,"series":"net","run":2,"rate":1.2},{"hour":19.5,"series":"net","run":2,"rate":1.0},{"hour":19.6,"series":"net","run":2,"rate":0.9},{"hour":19.7,"series":"net","run":2,"rate":0.8},{"hour":19.8,"series":"net","run":2,"rate":0.9},{"hour":19.9,"series":"net","run":2,"rate":1.0},{"hour":20.0,"series":"net","run":2,"rate":1.3},{"hour":20.1,"series":"net","run":2,"rate":1.4},{"hour":20.2,"series":"net","run":2,"rate":1.0},{"hour":20.3,"series":"net","run":2,"rate":0.7},{"hour":20.4,"series":"net","run":2,"rate":0.6},{"hour":20.5,"series":"net","run":2,"rate":0.5},{"hour":20.6,"series":"net","run":2,"rate":0.3},{"hour":20.7,"series":"net","run":2,"rate":0.2},{"hour":20.8,"series":"net","run":2,"rate":0.2},{"hour":20.9,"series":"net","run":2,"rate":0.2},{"hour":21.0,"series":"net","run":2,"rate":0.2},{"hour":21.1,"series":"net","run":2,"rate":0.1},{"hour":21.2,"series":"net","run":2,"rate":0.2},{"hour":21.3,"series":"net","run":2,"rate":0.2},{"hour":21.4,"series":"net","run":2,"rate":0.1},{"hour":21.5,"series":"net","run":2,"rate":0.3},{"hour":21.55,"series":"net","run":2,"rate":2.2},{"hour":21.6,"series":"net","run":2,"rate":2.9},{"hour":21.7,"series":"net","run":2,"rate":3.4},{"hour":21.75,"series":"net","run":2,"rate":3.1},{"hour":21.8,"series":"net","run":2,"rate":2.0},{"hour":21.9,"series":"net","run":2,"rate":0.7},{"hour":22.0,"series":"net","run":2,"rate":0.2},{"hour":22.1,"series":"net","run":2,"rate":0.2},{"hour":22.2,"series":"net","run":2,"rate":0.1},{"hour":22.4,"series":"net","run":2,"rate":0.2},{"hour":22.6,"series":"net","run":2,"rate":0.1},{"hour":22.8,"series":"net","run":2,"rate":0.1},{"hour":23.0,"series":"net","run":2,"rate":0.2},{"hour":23.2,"series":"net","run":2,"rate":0.1},{"hour":23.5,"series":"net","run":2,"rate":0.1},{"hour":24.0,"series":"net","run":2,"rate":0},

      {"hour":15.0,"series":"net","run":3,"rate":3.0},{"hour":15.1,"series":"net","run":3,"rate":1.8},{"hour":15.2,"series":"net","run":3,"rate":1.3},{"hour":15.3,"series":"net","run":3,"rate":2.9},{"hour":15.4,"series":"net","run":3,"rate":3.9},{"hour":15.5,"series":"net","run":3,"rate":4.1},{"hour":15.6,"series":"net","run":3,"rate":2.9},{"hour":15.7,"series":"net","run":3,"rate":1.9},{"hour":15.8,"series":"net","run":3,"rate":1.6},{"hour":15.9,"series":"net","run":3,"rate":1.3},{"hour":16.0,"series":"net","run":3,"rate":0.4},{"hour":16.1,"series":"net","run":3,"rate":0.1},{"hour":16.3,"series":"net","run":3,"rate":0.1},{"hour":16.6,"series":"net","run":3,"rate":0.2},{"hour":17.0,"series":"net","run":3,"rate":0.1},{"hour":17.2,"series":"net","run":3,"rate":0.2},{"hour":17.4,"series":"net","run":3,"rate":0.5},{"hour":17.5,"series":"net","run":3,"rate":0.7},{"hour":17.6,"series":"net","run":3,"rate":1.0},{"hour":17.7,"series":"net","run":3,"rate":1.0},{"hour":17.8,"series":"net","run":3,"rate":0.9},{"hour":17.9,"series":"net","run":3,"rate":0.6},{"hour":18.0,"series":"net","run":3,"rate":0.5},{"hour":18.1,"series":"net","run":3,"rate":0.4},{"hour":18.2,"series":"net","run":3,"rate":0.3},{"hour":18.3,"series":"net","run":3,"rate":0.3},{"hour":18.4,"series":"net","run":3,"rate":0.4},{"hour":18.5,"series":"net","run":3,"rate":0.6},{"hour":18.6,"series":"net","run":3,"rate":0.9},{"hour":18.7,"series":"net","run":3,"rate":1.3},{"hour":18.8,"series":"net","run":3,"rate":1.6},{"hour":18.9,"series":"net","run":3,"rate":1.9},{"hour":19.0,"series":"net","run":3,"rate":1.7},{"hour":19.1,"series":"net","run":3,"rate":2.3},{"hour":19.2,"series":"net","run":3,"rate":2.7},{"hour":19.3,"series":"net","run":3,"rate":3.0},{"hour":19.4,"series":"net","run":3,"rate":1.9},{"hour":19.5,"series":"net","run":3,"rate":1.5},{"hour":19.6,"series":"net","run":3,"rate":1.4},{"hour":19.7,"series":"net","run":3,"rate":1.3},{"hour":19.8,"series":"net","run":3,"rate":1.4},{"hour":19.9,"series":"net","run":3,"rate":1.5},{"hour":20.0,"series":"net","run":3,"rate":2.0},{"hour":20.1,"series":"net","run":3,"rate":2.1},{"hour":20.2,"series":"net","run":3,"rate":1.6},{"hour":20.3,"series":"net","run":3,"rate":1.2},{"hour":20.4,"series":"net","run":3,"rate":1.1},{"hour":20.5,"series":"net","run":3,"rate":0.9},{"hour":20.6,"series":"net","run":3,"rate":0.6},{"hour":20.7,"series":"net","run":3,"rate":0.5},{"hour":20.8,"series":"net","run":3,"rate":0.5},{"hour":20.9,"series":"net","run":3,"rate":0.4},{"hour":21.0,"series":"net","run":3,"rate":0.4},{"hour":21.1,"series":"net","run":3,"rate":0.3},{"hour":21.2,"series":"net","run":3,"rate":0.3},{"hour":21.3,"series":"net","run":3,"rate":0.4},{"hour":21.4,"series":"net","run":3,"rate":0.3},{"hour":21.5,"series":"net","run":3,"rate":0.6},{"hour":21.55,"series":"net","run":3,"rate":3.1},{"hour":21.6,"series":"net","run":3,"rate":3.9},{"hour":21.7,"series":"net","run":3,"rate":4.8},{"hour":21.75,"series":"net","run":3,"rate":4.2},{"hour":21.8,"series":"net","run":3,"rate":2.8},{"hour":21.9,"series":"net","run":3,"rate":1.2},{"hour":22.0,"series":"net","run":3,"rate":0.4},{"hour":22.1,"series":"net","run":3,"rate":0.4},{"hour":22.2,"series":"net","run":3,"rate":0.3},{"hour":22.4,"series":"net","run":3,"rate":0.6},{"hour":22.6,"series":"net","run":3,"rate":0.3},{"hour":22.8,"series":"net","run":3,"rate":0.4},{"hour":23.0,"series":"net","run":3,"rate":1.0},{"hour":23.2,"series":"net","run":3,"rate":0.3},{"hour":23.5,"series":"net","run":3,"rate":0.3},{"hour":23.8,"series":"net","run":3,"rate":0.2},{"hour":24.0,"series":"net","run":3,"rate":0.1}
    ]
  },
  "hconcat": [
    {
      "vconcat": [
        {"data": {"values": []}, "mark": {"type": "point"}, "width": 10, "height": 50, "view": {"stroke": null}},
        {
          "width": 373,
          "height": 454,
          "title": {"text": "50x50 reconstruction", "fontSize": 18, "offset": -1, "frame": "group", "anchor": "middle"},
          "data": {"name": "rms"},
          "mark": {"type": "line"},
          "encoding": {
            "x": {"field": "basis", "type": "quantitative", "scale": {"domain": [20, 100], "nice": false, "zero": false}, "axis": {"values": [20, 40, 60, 80, 100], "title": "Number of basis functions", "labelFontSize": 18, "titleFontSize": 18, "labelPadding": 8, "titlePadding": 1}},
            "y": {"field": "rmse", "type": "quantitative", "scale": {"domain": [0.85, 1.3], "nice": false, "zero": false}, "axis": {"values": [0.85, 0.9, 0.95, 1, 1.05, 1.1, 1.15, 1.2, 1.25, 1.3], "format": ".2~f", "title": "Mean RMS error of the entire field", "labelFontSize": 18, "titleFontSize": 18, "labelPadding": 9, "titlePadding": 6}},
            "color": {"field": "series", "type": "nominal", "scale": {"domain": ["200 links", "300 links", "400 links", "500 links", "600 links", "Direct Projection"], "range": ["#111111", "#111111", "#111111", "#444444", "#aaaaaa", "#666666"]},
              "legend": {"orient": "none", "legendX": 388, "legendY": 160, "title": null, "symbolType": "M-2.375,0L2.375,0", "symbolSize": 256, "symbolOffset": 15, "labelOffset": 11.5, "labelFontSize": 18, "rowPadding": 3.4, "padding": 4, "strokeColor": "black", "fillColor": "white"}},
            "strokeDash": {"field": "series", "type": "nominal", "scale": {"domain": ["200 links", "300 links", "400 links", "500 links", "600 links", "Direct Projection"], "range": [[1, 0], [8, 3, 2, 3], [7, 5], [1.5, 3], [1, 0], [1, 0]]},
              "legend": {"orient": "none", "legendX": 388, "legendY": 160, "title": null, "symbolType": "M-2.375,0L2.375,0", "symbolSize": 256, "symbolOffset": 15, "labelOffset": 11.5, "labelFontSize": 18, "rowPadding": 3.4, "padding": 4, "strokeColor": "black", "fillColor": "white"}},
            "strokeWidth": {"field": "series", "type": "ordinal", "scale": {"type": "ordinal", "domain": ["200 links", "300 links", "400 links", "500 links", "600 links", "Direct Projection"], "range": [2, 1.8, 2.2, 1.5, 2.5, 2.5]},
              "legend": {"orient": "none", "legendX": 388, "legendY": 160, "title": null, "symbolType": "M-2.375,0L2.375,0", "symbolSize": 256, "symbolOffset": 15, "labelOffset": 11.5, "labelFontSize": 18, "rowPadding": 3.4, "padding": 4, "strokeColor": "black", "fillColor": "white"}}
          }
        }
      ],
      "spacing": 0,
      "resolve": {"scale": {"color": "independent", "strokeDash": "independent", "strokeWidth": "independent"}, "legend": {"color": "independent", "strokeDash": "independent", "strokeWidth": "independent"}},
      "title": {"text": "(a) The mean value of the RMS error (mm hr⁻¹)", "orient": "bottom", "font": "Liberation Serif", "fontSize": 18, "fontWeight": "normal", "anchor": "middle", "frame": "bounds", "dx": -86, "offset": 5, "color": "black"}
    },
    {
      "vconcat": [
        {
          "width": 334,
          "height": 219,
          "title": {"text": "Chilbolton", "fontSize": 20, "offset": 4, "frame": "group", "anchor": "middle"},
          "data": {"name": "chil"},
          "encoding": {
            "x": {"field": "hour", "type": "quantitative", "scale": {"domain": [15, 24], "nice": false, "zero": false}, "axis": {"values": [16, 18, 20, 22, 24], "title": "Time (UT) 07 July 2007", "labelFontSize": 15, "titleFontSize": 20, "labelPadding": 10, "titlePadding": -2}},
            "y": {"field": "rate", "type": "quantitative", "scale": {"domain": [0, 15], "nice": false}, "axis": {"values": [0, 5, 10, 15], "title": "Rainfall rate (mm/hr)", "labelFontSize": 15, "titleFontSize": 20, "labelPadding": 9, "titlePadding": 6}},
            "color": {"field": "series", "type": "nominal", "scale": {"domain": ["net", "avg", "radar", "dist"], "range": ["#b8b8b8", "#111111", "#222222", "#707070"]},
              "legend": {"orient": "none", "legendX": 353, "legendY": 70, "title": null, "symbolType": "M-3.31,0L3.31,0", "symbolSize": 169, "symbolOffset": 17.5, "labelOffset": 19.5, "labelFontSize": 15, "rowPadding": 3.2, "padding": 4, "strokeColor": "black", "fillColor": "white", "labelExpr": "{'net':'Individual random network','avg':'Average performance','radar':'Radar','dist':'Distrometer'}[datum.label]"}},
            "strokeDash": {"field": "series", "type": "nominal", "scale": {"domain": ["net", "avg", "radar", "dist"], "range": [[1, 0], [1, 0], [6, 4], [1, 0]]},
              "legend": {"orient": "none", "legendX": 353, "legendY": 70, "title": null, "symbolType": "M-3.31,0L3.31,0", "symbolSize": 169, "symbolOffset": 17.5, "labelOffset": 19.5, "labelFontSize": 15, "rowPadding": 3.2, "padding": 4, "strokeColor": "black", "fillColor": "white", "labelExpr": "{'net':'Individual random network','avg':'Average performance','radar':'Radar','dist':'Distrometer'}[datum.label]"}},
            "strokeWidth": {"field": "series", "type": "ordinal", "scale": {"type": "ordinal", "domain": ["net", "avg", "radar", "dist"], "range": [1, 2.5, 2.5, 3]},
              "legend": {"orient": "none", "legendX": 353, "legendY": 70, "title": null, "symbolType": "M-3.31,0L3.31,0", "symbolSize": 169, "symbolOffset": 17.5, "labelOffset": 19.5, "labelFontSize": 15, "rowPadding": 3.2, "padding": 4, "strokeColor": "black", "fillColor": "white", "labelExpr": "{'net':'Individual random network','avg':'Average performance','radar':'Radar','dist':'Distrometer'}[datum.label]"}}
          },
          "layer": [
            {"transform": [{"filter": "datum.series === 'net'"}], "mark": {"type": "line"}, "encoding": {"detail": {"field": "run", "type": "nominal"}}},
            {"transform": [{"filter": "datum.series === 'dist'"}], "mark": {"type": "line"}},
            {"transform": [{"filter": "datum.series === 'avg'"}], "mark": {"type": "line"}},
            {"transform": [{"filter": "datum.series === 'radar'"}], "mark": {"type": "line"}}
          ]
        },
        {
          "width": 334,
          "height": 220,
          "title": {"text": "Sparsholt", "fontSize": 20, "offset": 0, "frame": "group", "anchor": "middle"},
          "data": {"name": "spar"},
          "encoding": {
            "x": {"field": "hour", "type": "quantitative", "scale": {"domain": [14, 24], "nice": false, "zero": false}, "axis": {"values": [14, 16, 18, 20, 22, 24], "title": "Time (UT) 07 July 2007", "labelFontSize": 15, "titleFontSize": 20, "labelPadding": 10, "titlePadding": -2}},
            "y": {"field": "rate", "type": "quantitative", "scale": {"domain": [0, 25], "nice": false}, "axis": {"values": [0, 5, 10, 15, 20, 25], "title": "Rainfall rate (mm/hr)", "labelFontSize": 15, "titleFontSize": 20, "labelPadding": 9, "titlePadding": 6}},
            "color": {"field": "series", "type": "nominal", "scale": {"domain": ["net", "avg", "radar", "dist"], "range": ["#b8b8b8", "#111111", "#222222", "#707070"]},
              "legend": {"orient": "none", "legendX": 353, "legendY": 71, "title": null, "symbolType": "M-3.31,0L3.31,0", "symbolSize": 169, "symbolOffset": 17.5, "labelOffset": 19.5, "labelFontSize": 15, "rowPadding": 3.2, "padding": 4, "strokeColor": "black", "fillColor": "white", "labelExpr": "{'net':'Individual random network','avg':'Average performance','radar':'Radar','dist':'Distrometer'}[datum.label]"}},
            "strokeDash": {"field": "series", "type": "nominal", "scale": {"domain": ["net", "avg", "radar", "dist"], "range": [[1, 0], [1, 0], [6, 4], [1, 0]]},
              "legend": {"orient": "none", "legendX": 353, "legendY": 71, "title": null, "symbolType": "M-3.31,0L3.31,0", "symbolSize": 169, "symbolOffset": 17.5, "labelOffset": 19.5, "labelFontSize": 15, "rowPadding": 3.2, "padding": 4, "strokeColor": "black", "fillColor": "white", "labelExpr": "{'net':'Individual random network','avg':'Average performance','radar':'Radar','dist':'Distrometer'}[datum.label]"}},
            "strokeWidth": {"field": "series", "type": "ordinal", "scale": {"type": "ordinal", "domain": ["net", "avg", "radar", "dist"], "range": [1, 2.5, 2.5, 3]},
              "legend": {"orient": "none", "legendX": 353, "legendY": 71, "title": null, "symbolType": "M-3.31,0L3.31,0", "symbolSize": 169, "symbolOffset": 17.5, "labelOffset": 19.5, "labelFontSize": 15, "rowPadding": 3.2, "padding": 4, "strokeColor": "black", "fillColor": "white", "labelExpr": "{'net':'Individual random network','avg':'Average performance','radar':'Radar','dist':'Distrometer'}[datum.label]"}}
          },
          "layer": [
            {"transform": [{"filter": "datum.series === 'net'"}], "mark": {"type": "line"}, "encoding": {"detail": {"field": "run", "type": "nominal"}}},
            {"transform": [{"filter": "datum.series === 'dist'"}], "mark": {"type": "line"}},
            {"transform": [{"filter": "datum.series === 'avg'"}], "mark": {"type": "line"}},
            {"transform": [{"filter": "datum.series === 'radar'"}], "mark": {"type": "line"}}
          ]
        }
      ],
      "spacing": 19,
      "resolve": {"scale": {"x": "independent", "y": "independent", "color": "independent", "strokeDash": "independent", "strokeWidth": "independent"}, "legend": {"color": "independent", "strokeDash": "independent", "strokeWidth": "independent"}},
      "title": {"text": "(b) Comparison of rainfall rate timseries", "orient": "bottom", "font": "Liberation Serif", "fontSize": 18, "fontWeight": "normal", "anchor": "middle", "frame": "bounds", "dx": -5, "offset": 8, "color": "black"}
    }
  ],
  "spacing": 37,
  "resolve": {"scale": {"x": "independent", "y": "independent", "color": "independent", "strokeDash": "independent", "strokeWidth": "independent"}, "legend": {"color": "independent", "strokeDash": "independent", "strokeWidth": "independent"}}
}
